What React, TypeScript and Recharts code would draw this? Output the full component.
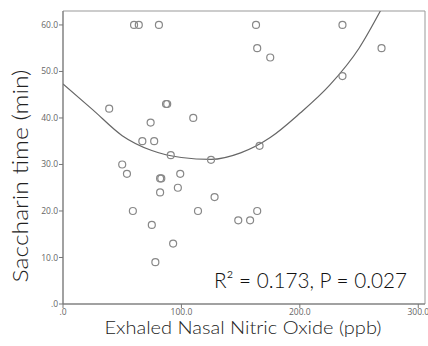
import type { ReactElement } from "react";
import { ComposedChart, Label, Line, ReferenceArea, Scatter, XAxis, YAxis } from "recharts";

// observed values (eNO ppb, saccharin time min)
const noValues = [60, 64, 81, 39, 87, 88, 74, 110, 67, 77, 91, 125, 50, 54, 82, 83, 99, 97, 82, 59, 114, 75, 93, 78, 128, 148, 158, 164, 163, 164, 175, 236, 269, 236, 166];
const timeValues = [60, 60, 60, 42, 43, 43, 39, 40, 35, 35, 32, 31, 30, 28, 27, 27, 28, 25, 24, 20, 20, 17, 13, 9, 23, 18, 18, 20, 60, 55, 53, 60, 55, 49, 34];

// quadratic fit line
const fitX = [0, 25, 50, 75, 100, 125, 150, 175, 200, 225, 250, 268];
const fitY = [47.3, 41.8, 36.2, 33, 31.5, 31.1, 32.5, 35.8, 41, 47, 55, 63];

const xTicks = [0, 100, 200, 300];
const yTicks = [0, 10, 20, 30, 40, 50, 60];
const xMax = 305.7;
const yMax = 63;

const points = noValues.map((x, i) => ({ x, y: timeValues[i] }));
const fitLine = fitX.map((x, i) => ({ x, fit: fitY[i] }));

const fmt = (v: number): string => (v === 0 ? ".0" : v.toFixed(1));
const titleFont = "Lato, 'Noto Sans', sans-serif";
const tickStyle = { fill: "#666", fontSize: 8.5, fontFamily: "'Open Sans', sans-serif" };

export default function App(): ReactElement {
  return (
    <div style={{ position: "absolute", left: 0, top: 0, background: "#fff" }}>
      <ComposedChart width={428} height={346} margin={{ top: 11, right: 3, bottom: 0, left: 0 }}>
        <XAxis
          type="number"
          dataKey="x"
          domain={[0, xMax]}
          ticks={xTicks}
          tickFormatter={fmt}
          allowDataOverflow
          height={42}
          tickSize={4}
          tickMargin={1}
          stroke="#777"
          tick={tickStyle}
        >
          <Label
            content={({ viewBox }: any) => (
              <text x={viewBox.x + viewBox.width / 2 - 1} y={334} textAnchor="middle" fill="#222" fontSize={17} fontWeight={300}
                fontFamily={titleFont} textLength={277} lengthAdjust="spacingAndGlyphs">
                Exhaled Nasal Nitric Oxide (ppb)
              </text>
            )}
          />
        </XAxis>
        <YAxis
          type="number"
          domain={[0, yMax]}
          ticks={yTicks}
          tickFormatter={fmt}
          allowDataOverflow
          width={63}
          tickSize={4}
          tickMargin={1}
          stroke="#777"
          tick={tickStyle}
        >
          <Label
            content={() => (
              <text
                x={28}
                y={176}
                transform="rotate(-90 28 176)"
                textAnchor="middle"
                fill="#222"
                fontSize={22}
                fontWeight={300}
                fontFamily={titleFont}
                textLength={213}
                lengthAdjust="spacingAndGlyphs"
              >
                Saccharin time (min)
              </text>
            )}
          />
        </YAxis>
        <ReferenceArea x1={0} x2={xMax} y1={0} y2={yMax} fill="none" stroke="#999" strokeWidth={1} ifOverflow="visible">
          <Label
            content={({ viewBox }: any) => (
              <text x={viewBox.x + viewBox.width - 18} y={viewBox.y + viewBox.height - 16} textAnchor="end" fill="#111" fontSize={21}
                fontWeight={300} fontFamily={titleFont} textLength={193} lengthAdjust="spacingAndGlyphs">
                R² = 0.173, P = 0.027
              </text>
            )}
          />
        </ReferenceArea>
        <Line data={fitLine} dataKey="fit" type="monotone" stroke="#666" strokeWidth={1.2} dot={false} isAnimationActive={false} />
        <Scatter data={points} dataKey="y" fill="none" stroke="#888" strokeWidth={1.2} isAnimationActive={false}
          shape={(p: any) => <circle cx={p.cx} cy={p.cy} r={3.5} fill="none" stroke="#888" strokeWidth={1.2} />}
        />
      </ComposedChart>
    </div>
  );
}
